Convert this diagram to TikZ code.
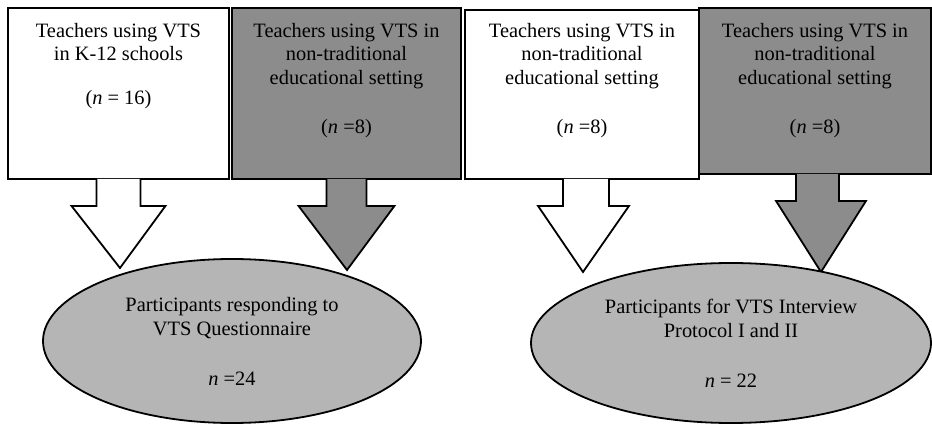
\documentclass[tikz,border=0pt]{standalone}
\usepackage{fontspec}
\setmainfont{Liberation Serif}
\usetikzlibrary{shapes.geometric, positioning, calc}

\definecolor{boxgray}{gray}{0.55}
\definecolor{ellgray}{gray}{0.71}

\tikzset{
    box/.style={draw, line width=1.8pt, inner sep=0pt},
    boxtext/.style={align=center, inner sep=0pt, font=\fontsize{20.4}{23.5}\selectfont},
    group/.style={ellipse, draw, line width=1.8pt, fill=ellgray, inner sep=0pt,
        align=center, font=\fontsize{20.4}{24}\selectfont},
    blockarrow/.style={draw, line width=1.8pt, line join=miter},
}

\begin{document}
\begin{tikzpicture}[x=1pt, y=-1pt]
        \useasboundingbox (0,0) rectangle (932,425);

        \node[box, fill=white, minimum width=221pt, minimum height=171pt] (b1) at (118.5,93.5) {};
        \node[box, fill=boxgray, minimum width=229pt, minimum height=171pt] (b2) at (346.5,93.5) {};
        \node[box, fill=white, minimum width=234pt, minimum height=169pt] (b3) at (582,94.5) {};
        \node[box, fill=boxgray, minimum width=232pt, minimum height=166pt] (b4) at (815,91) {};

        \coordinate (t1) at (120,268);
        \coordinate (t2) at (347,270);
        \coordinate (t3) at (583,272);
        \coordinate (t4) at (821,272);

        \filldraw[blockarrow, fill=white] ($(b1.south)+(-22,-1)$) -- ++(0,27) -- ++(-25,0) -- (t1)
            -- ($(b1.south)+(47,26)$) -- ++(-25,0) -- ++(0,-27);
        \filldraw[blockarrow, fill=boxgray] ($(b2.south)+(-20,-1)$) -- ++(0,27) -- ++(-28,0) -- (t2)
            -- ($(b2.south)+(48,26)$) -- ++(-28,0) -- ++(0,-27);
        \filldraw[blockarrow, fill=white] ($(b3.south)+(-19,-1)$) -- ++(0,27) -- ++(-25,0) -- (t3)
            -- ($(b3.south)+(47,26)$) -- ++(-20,0) -- ++(0,-27);
        \filldraw[blockarrow, fill=boxgray] ($(b4.south)+(-19,-1)$) -- ++(0,27) -- ++(-20,0) -- (t4)
            -- ($(b4.south)+(51,26)$) -- ++(-27,0) -- ++(0,-27);

        \node[boxtext, below=16pt of b1.north] (b1text)
            {Teachers using VTS\\ in K-12 schools\\[20.5pt] (\textit{n} = 16)};
        \node[boxtext, below=16pt of b2.north] (b2text)
            {Teachers using VTS in\\ non-traditional\\ educational setting\\[25.5pt] (\textit{n} =8)};
        \node[boxtext, below=14pt of b3.north] (b3text)
            {Teachers using VTS in\\ non-traditional\\ educational setting\\[25.5pt] (\textit{n} =8)};
        \node[boxtext, below=16pt of b4.north] (b4text)
            {Teachers using VTS in\\ non-traditional\\ educational setting\\[25.5pt] (\textit{n} =8)};

        \node[group, minimum width=378pt, minimum height=164pt] (e1) at (232,341)
            {Participants responding to\\ VTS Questionnaire\\[26pt] \textit{n} =24};
        \node[group, minimum width=400pt, minimum height=160pt] (e2) at (731,343)
            {Participants for VTS Interview\\ Protocol I and II\\[26pt] \textit{n} = 22};
    \end{tikzpicture}
\end{document}
